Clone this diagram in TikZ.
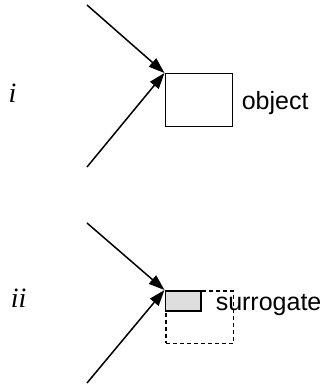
\documentclass[tikz,border=0pt]{standalone}
\usepackage{fontspec}
\setmainfont{Liberation Serif}
\newfontfamily\arialfont{Liberation Sans}
\usetikzlibrary{arrows.meta}
\begin{document}
\begin{tikzpicture}[x=1pt,y=-1pt,line width=1.5pt,
  conn/.style={-{Triangle[length=16pt,width=11pt]},line width=1.5pt},
  lbl/.style={font=\arialfont\fontsize{25}{28}\selectfont,inner sep=0pt,anchor=base west},
  roman/.style={font=\itshape\fontsize{28}{30}\selectfont,inner sep=0pt,anchor=base west},
  boxst/.style={draw,inner sep=0pt,anchor=north west}]
\useasboundingbox (0,0) rectangle (330,385);
% part i
\node[roman] (li) at (8,102.7) {i};
\node[boxst,minimum width=67pt,minimum height=52.5pt] (obj) at (164.5,73) {};
\node[lbl] (objt) at (241,110) {object};
\coordinate (a1) at (87,5);
\coordinate (a2) at (87,167);
\draw[conn] (a1) -- (obj.north west);
\draw[conn] (a2) -- (obj.north west);
% part ii
\node[roman] (lii) at (10,307.7) {ii};
\node[boxst,dash pattern=on 4pt off 3pt,minimum width=67.5pt,minimum height=52.5pt] (dash) at (165,290) {};
\node[boxst,fill=black!13,line width=1.8pt,minimum width=35.5pt,minimum height=20pt] (sur) at (164.5,290) {};
\node[lbl] (surt) at (215,310) {surrogate};
\coordinate (b1) at (87,223);
\coordinate (b2) at (87,383);
\draw[conn] (b1) -- (sur.north west);
\draw[conn] (b2) -- (sur.north west);
\end{tikzpicture}
\end{document}
